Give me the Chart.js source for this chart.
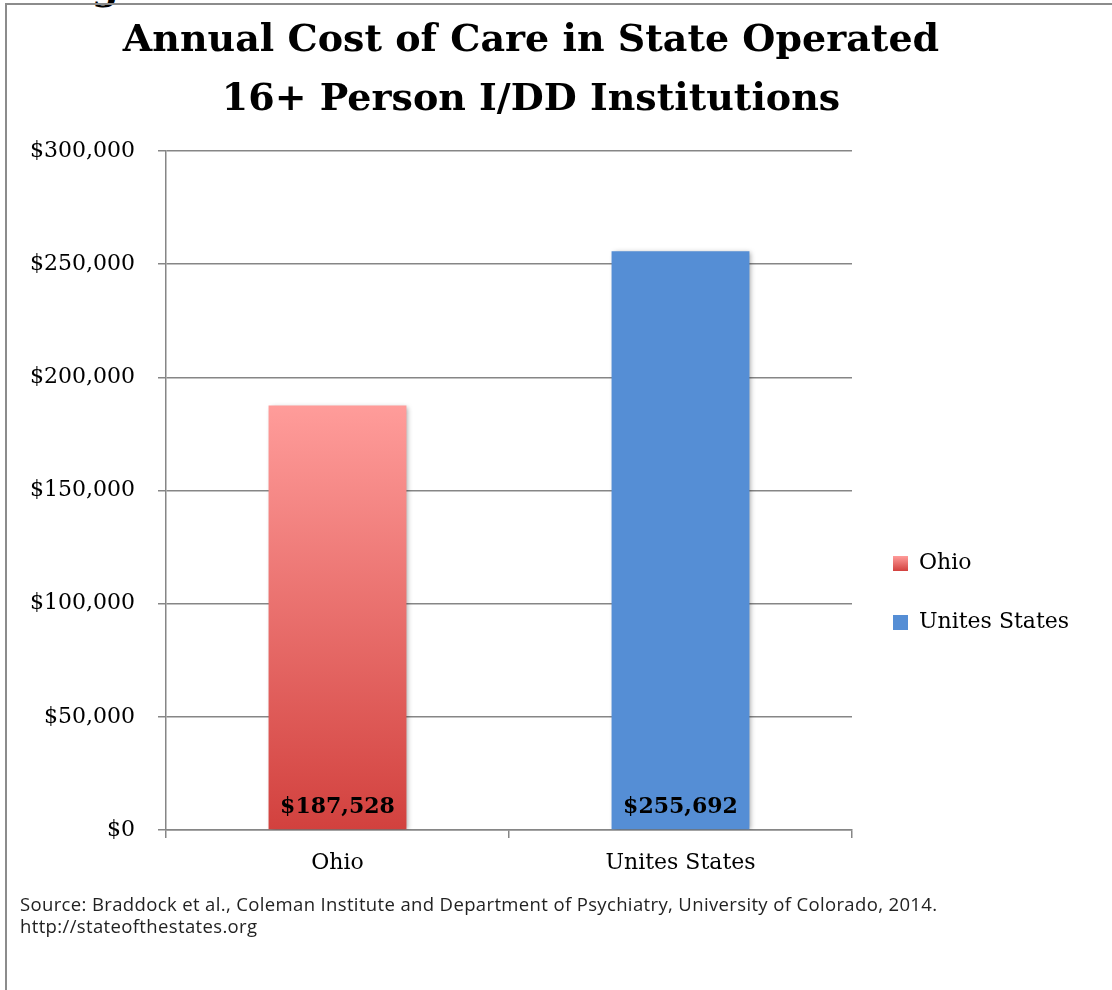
<!DOCTYPE html>
<html>
<head>
<meta charset="utf-8">
<script src="https://cdn.jsdelivr.net/npm/chart.js@4.4.1/dist/chart.umd.min.js"></script>
<style>
  html, body { margin: 0; padding: 0; background: #fff; overflow: hidden; }
  body { width: 1112px; height: 990px; position: relative; }
  #frame { position: absolute; left: 5px; top: 3px; width: 1120px; height: 1000px;
           border: 2px solid #8c8c8c; box-sizing: border-box; }
  #cut { position: absolute; left: 92px; top: -37px; font: bold 38px "DejaVu Serif"; color: #000; }
  #chart { position: absolute; left: 0; top: 0; }
  #source { position: absolute; left: 20px; top: 893px; font: 18.5px "Open Sans", sans-serif;
            letter-spacing: 0.36px; line-height: 22px; color: #222; white-space: nowrap; }
</style>
</head>
<body>
<div id="cut">g</div>
<div id="frame"></div>
<canvas id="chart" width="1112" height="990"></canvas>
<div id="source">Source: Braddock et al., Coleman Institute and Department of Psychiatry, University of Colorado, 2014.<br>http://stateofthestates.org</div>
<script>
// Chart data
const categories = ['Ohio', 'Unites States'];
const costs = [187528, 255692];
const yTicks = [0, 50000, 100000, 150000, 200000, 250000, 300000];
const titleLines = ['Annual Cost of Care in State Operated', '16+ Person I/DD Institutions'];

const blue = '#558ED5';
const pinkTop = '#FF9C9A';
const redBottom = '#D2413E';
const gridGray = '#868686';

const money = (v) => '$' + v.toLocaleString('en-US');

// Ohio bar fades from pink at the top to red at the base
const barColor = (c) => {
    if (c.dataIndex !== 0) return blue;
    const chart = c.chart;
    const area = chart.chartArea;
    if (!area) return redBottom;
    const top = chart.scales.y.getPixelForValue(costs[0]);
    const g = chart.ctx.createLinearGradient(0, top, 0, area.bottom);
    g.addColorStop(0, pinkTop);
    g.addColorStop(1, redBottom);
    return g;
};

// legend sits lower and a bit further right than Chart.js would put it
const legendSpot = { x: 893, y: 552.5 };
const legendBoxWidth = 200;

const legendMover = {
    id: 'legendMover',
    beforeLayout(chart) {
        const lg = chart.legend;
        if (!lg || lg._fixedFit) return;
        const fit = lg.fit;
        lg.fit = function () {
            fit.call(this);
            this.width = legendBoxWidth;
        };
        lg._fixedFit = true;
    },
    afterLayout(chart) {
        const lg = chart.legend;
        if (!lg || !lg.columnSizes) return;
        const pad = lg.options.labels.padding;
        const startY = ((lg.top + pad) + (lg.bottom - lg.columnSizes[0].height)) / 2;
        const dy = legendSpot.y - startY;
        const dx = legendSpot.x - (lg.left + pad);
        lg.top += dy; lg.bottom += dy;
        lg.left += dx;
        // give the labels room so they are not cut short
        lg.width = chart.width - lg.left;
        lg.right = chart.width;
    }
};

// soft shadow under bars + value labels at the base
const barExtras = {
    id: 'barExtras',
    beforeDatasetsDraw(chart) {
        const ctx = chart.ctx;
        ctx.save();
        ctx.shadowColor = 'rgba(0,0,0,0.35)';
        ctx.shadowBlur = 5;
        ctx.shadowOffsetX = 2;
        ctx.shadowOffsetY = 1;
    },
    afterDatasetsDraw(chart) {
        const ctx = chart.ctx;
        ctx.restore();
        const meta = chart.getDatasetMeta(0);
        const base = chart.scales.y.getPixelForValue(0);
        ctx.save();
        ctx.font = 'bold 22px "DejaVu Serif"';
        ctx.fillStyle = '#000';
        ctx.textAlign = 'center';
        ctx.textBaseline = 'alphabetic';
        meta.data.forEach((bar, i) => {
            ctx.fillText(money(costs[i]), bar.x, base - 17);
        });
        ctx.restore();
    }
};

new Chart(document.getElementById('chart'), {
    type: 'bar',
    data: {
        labels: categories,
        datasets: [{
            data: costs,
            backgroundColor: barColor,
            borderWidth: 0,
            categoryPercentage: 1,
            barPercentage: 0.402
        }]
    },
    options: {
        responsive: false,
        animation: false,
        layout: { padding: { left: 10, right: 60, top: 0, bottom: 100 } },
        plugins: {
            title: {
                display: true,
                text: titleLines,
                color: '#000',
                font: { family: '"DejaVu Serif"', size: 38, weight: 'bold', lineHeight: 1.54 },
                padding: { top: 12, bottom: 22 }
            },
            legend: {
                position: 'right',
                labels: {
                    color: '#000',
                    font: { family: '"DejaVu Serif"', size: 22 },
                    boxWidth: 15,
                    boxHeight: 15,
                    padding: 37,
                    generateLabels: (chart) => categories.map((name, i) => {
                        let fill = blue;
                        if (i === 0) {
                            fill = chart.ctx.createLinearGradient(0, legendSpot.y + 3.5, 0, legendSpot.y + 18.5);
                            fill.addColorStop(0, pinkTop);
                            fill.addColorStop(1, redBottom);
                        }
                        return { text: name, fillStyle: fill, strokeStyle: 'rgba(0,0,0,0)', lineWidth: 0, hidden: false, index: i };
                    })
                }
            },
            tooltip: { enabled: false }
        },
        scales: {
            x: {
                afterFit: (s) => { s.height = 60; },
                grid: { drawOnChartArea: false, drawTicks: true, tickLength: 8, color: gridGray, lineWidth: 1.5 },
                border: { display: true, color: gridGray, width: 1.5 },
                ticks: { color: '#000', font: { family: '"DejaVu Serif"', size: 22 }, padding: 12 }
            },
            y: {
                min: 0,
                max: 300000,
                afterFit: (s) => { s.width = 156; },
                afterBuildTicks: (s) => { s.ticks = yTicks.map(v => ({ value: v })); },
                grid: { color: gridGray, lineWidth: 1.5, tickLength: 8, drawTicks: true },
                border: { display: true, color: gridGray, width: 1.5 },
                ticks: {
                    color: '#000',
                    font: { family: '"DejaVu Serif"', size: 22 },
                    padding: 23,
                    callback: (v) => money(v)
                }
            }
        }
    },
    plugins: [legendMover, barExtras]
});
</script>
</body>
</html>
